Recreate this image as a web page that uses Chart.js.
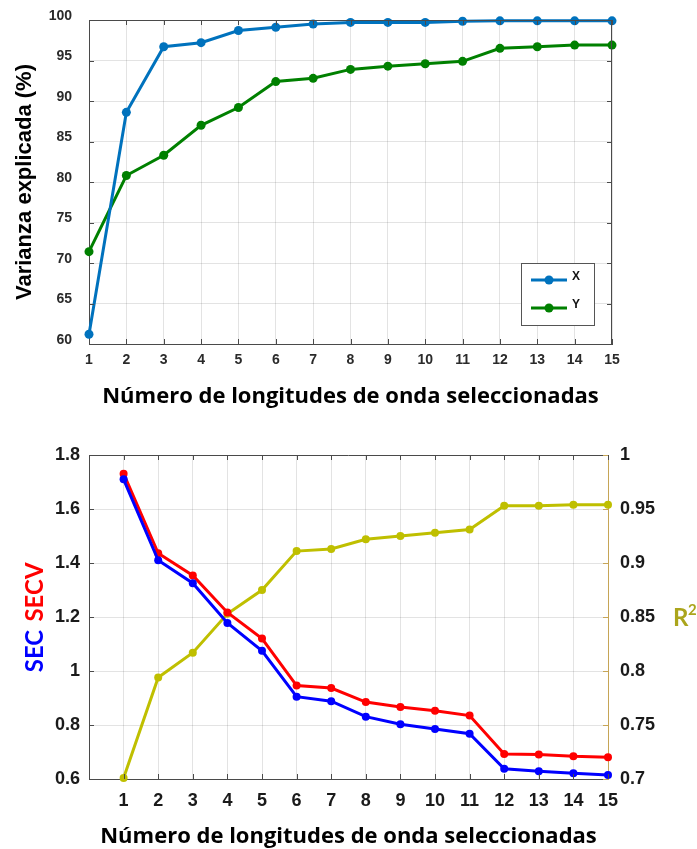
<!DOCTYPE html>
<html lang="es">
<head>
<meta charset="utf-8">
<title>Varianza explicada y SEC / SECV / R²</title>
<script src="https://cdn.jsdelivr.net/npm/chart.js@4.4.1/dist/chart.umd.min.js"></script>
<style>
    html, body { margin: 0; padding: 0; background: #fff; }
    #lienzo { position: relative; width: 697px; height: 849px; overflow: hidden; }
    canvas { position: absolute; left: 0; }
    #grafico-varianza { top: 0; }
    #grafico-errores { top: 430px; }
</style>
</head>
<body>
<div id="lienzo">
    <canvas id="grafico-varianza" width="697" height="420"></canvas>
    <canvas id="grafico-errores" width="697" height="419"></canvas>
</div>
<script>
// --- Datos ---
const longitudes = [1, 2, 3, 4, 5, 6, 7, 8, 9, 10, 11, 12, 13, 14, 15];
const varianzaX = [61.2, 88.6, 96.7, 97.2, 98.7, 99.1, 99.5, 99.7, 99.7, 99.7, 99.85, 99.9, 99.9, 99.9, 99.9];
const varianzaY = [71.4, 80.8, 83.3, 87.0, 89.2, 92.4, 92.8, 93.9, 94.3, 94.6, 94.9, 96.5, 96.7, 96.9, 96.9];
const sec  = [1.71, 1.41, 1.325, 1.178, 1.075, 0.905, 0.888, 0.831, 0.803, 0.785, 0.768, 0.638, 0.629, 0.621, 0.615];
const secv = [1.731, 1.436, 1.354, 1.217, 1.12, 0.946, 0.937, 0.885, 0.867, 0.853, 0.835, 0.693, 0.691, 0.684, 0.681];
const r2   = [0.701, 0.794, 0.817, 0.853, 0.875, 0.911, 0.913, 0.922, 0.925, 0.928, 0.931, 0.953, 0.953, 0.954, 0.954];

// --- Marcas de los ejes ---
const ticksVarianza = [60, 65, 70, 75, 80, 85, 90, 95, 100];
const ticksSec = [0.6, 0.8, 1, 1.2, 1.4, 1.6, 1.8];
const ticksR2 = [0.7, 0.75, 0.8, 0.85, 0.9, 0.95, 1];

const tituloX = 'Número de longitudes de onda seleccionadas';
const fuenteTitulo = 'Open Sans';

Chart.defaults.font.family = 'Liberation Sans';
Chart.defaults.font.weight = 'bold';

const puntos = (valores) => valores.map((v, i) => ({ x: longitudes[i], y: v }));
const fijarTicks = (lista) => (scale) => { scale.ticks = lista.map(v => ({ value: v })); };
// Ancho fijo del eje vertical, sin relleno extra arriba/abajo (el área la fija layout.padding)
const ejeVertical = (ancho) => (scale) => {
    scale.width = ancho;
    scale.paddingTop = 0;
    scale.paddingBottom = 0;
};
const COLOR_GRID = 'rgba(0,0,0,0.11)';
const COLOR_EJE = '#4a4a4a';

/**
 * Caja estilo MATLAB: borde superior/derecho y marcas hacia dentro.
 */
const cajaMatlab = {
    id: 'cajaMatlab',
    afterDatasetsDraw(chart, args, opts) {
        const { ctx, chartArea: a, scales } = chart;
        const L = 5;
        const linea = (x1, y1, x2, y2) => { ctx.beginPath(); ctx.moveTo(x1, y1); ctx.lineTo(x2, y2); ctx.stroke(); };
        ctx.save();
        ctx.lineWidth = 1;
        ctx.strokeStyle = COLOR_EJE;
        linea(a.left, a.top + 0.5, a.right, a.top + 0.5);
        scales.x.ticks.forEach(t => {
            const px = Math.round(scales.x.getPixelForValue(t.value)) + 0.5;
            linea(px, a.top, px, a.top + L);
            linea(px, a.bottom, px, a.bottom - L);
        });
        scales.y.ticks.forEach(t => {
            const py = Math.round(scales.y.getPixelForValue(t.value)) + 0.5;
            linea(a.left, py, a.left + L, py);
            if (!opts.escalaDerecha) linea(a.right, py, a.right - L, py);
        });
        if (opts.escalaDerecha) {
            const d = scales[opts.escalaDerecha];
            ctx.strokeStyle = opts.colorDerecha;
            d.ticks.forEach(t => {
                const py = Math.round(d.getPixelForValue(t.value)) + 0.5;
                linea(a.right, py, a.right - L, py);
            });
        } else {
            linea(a.right - 0.5, a.top, a.right - 0.5, a.bottom);
        }
        ctx.restore();
    }
};

/**
 * Leyenda dentro del área del gráfico (esquina inferior derecha).
 */
const leyendaInterna = {
    id: 'leyendaInterna',
    afterDraw(chart, args, opts) {
        const { ctx } = chart;
        const { x, y, w, h } = opts;
        ctx.save();
        ctx.fillStyle = '#fff';
        ctx.fillRect(x, y, w, h);
        ctx.strokeStyle = '#555';
        ctx.lineWidth = 1;
        ctx.strokeRect(x + 0.5, y + 0.5, w, h);
        chart.data.datasets.forEach((ds, i) => {
            const cy = y + 17 + i * 28;
            ctx.strokeStyle = ds.borderColor;
            ctx.lineWidth = 3;
            ctx.beginPath();
            ctx.moveTo(x + 10, cy);
            ctx.lineTo(x + 46, cy);
            ctx.stroke();
            ctx.fillStyle = ds.borderColor;
            ctx.beginPath();
            ctx.arc(x + 28, cy, 4.5, 0, Math.PI * 2);
            ctx.fill();
            ctx.fillStyle = '#111';
            ctx.font = 'bold 12px "Liberation Sans"';
            ctx.textBaseline = 'middle';
            ctx.fillText(ds.label, x + 51, cy - 3);
        });
        ctx.restore();
    }
};

/**
 * Títulos de los ejes del segundo gráfico (SEC en azul, SECV en rojo, R²).
 */
const titulosErrores = {
    id: 'titulosErrores',
    afterDraw(chart) {
        const { ctx } = chart;
        ctx.save();
        ctx.font = 'bold 24px Lato';
        ctx.textBaseline = 'middle';
        ctx.textAlign = 'center';
        ctx.translate(35, 0);
        ctx.rotate(-Math.PI / 2);
        ctx.fillStyle = '#0000ff';
        ctx.fillText('SEC', -221, 0);
        ctx.fillStyle = '#ff0000';
        ctx.fillText('SECV', -162, 0);
        ctx.restore();

        ctx.save();
        const yR = chart.scales.y1.getPixelForValue(0.85);
        ctx.fillStyle = '#aba51c';
        ctx.textBaseline = 'alphabetic';
        ctx.font = 'bold 24px Lato';
        ctx.fillText('R', 673, yR + 9);
        ctx.font = 'bold 15px Lato';
        ctx.fillText('2', 688, yR - 2);
        ctx.restore();
    }
};

// --- Gráfico 1: varianza explicada ---
new Chart(document.getElementById('grafico-varianza'), {
    type: 'line',
    data: {
        datasets: [
            { label: 'X', data: puntos(varianzaX), borderColor: '#0072BD', backgroundColor: '#0072BD' },
            { label: 'Y', data: puntos(varianzaY), borderColor: '#008000', backgroundColor: '#008000' }
        ]
    },
    options: {
        responsive: false,
        animation: false,
        clip: false,
        layout: { padding: { top: 20, right: 85, left: 0, bottom: 0 } },
        elements: {
            line: { borderWidth: 3, tension: 0 },
            point: { radius: 4.5, borderWidth: 0 }
        },
        plugins: {
            legend: { display: false },
            tooltip: { enabled: false },
            cajaMatlab: {},
            leyendaInterna: { x: 521, y: 263, w: 73, h: 62 }
        },
        scales: {
            x: {
                type: 'linear',
                min: 1,
                max: 15,
                afterBuildTicks: fijarTicks(longitudes),
                afterFit: (s) => { s.height = 76; },
                grid: { color: COLOR_GRID, drawTicks: false },
                border: { color: COLOR_EJE },
                ticks: { padding: 8, color: '#2a2a2a', font: { size: 14 }, callback: (v) => String(v) },
                title: {
                    display: true,
                    text: tituloX,
                    color: '#000',
                    font: { family: fuenteTitulo, size: 22, weight: 'bold', lineHeight: 1 },
                    padding: { top: 0, bottom: 12 }
                }
            },
            y: {
                min: 60,
                max: 100,
                afterBuildTicks: fijarTicks(ticksVarianza),
                afterFit: ejeVertical(89),
                grid: { color: COLOR_GRID, drawTicks: false },
                border: { color: COLOR_EJE },
                ticks: { padding: 17, labelOffset: -4, color: '#2a2a2a', font: { size: 14 }, callback: (v) => String(v) },
                title: {
                    display: true,
                    text: 'Varianza explicada (%)',
                    color: '#000',
                    font: { size: 22, weight: 'bold', lineHeight: 1 },
                    padding: { top: 14, bottom: 0 }
                }
            }
        }
    },
    plugins: [cajaMatlab, leyendaInterna]
});

// --- Gráfico 2: SEC, SECV y R² ---
new Chart(document.getElementById('grafico-errores'), {
    type: 'line',
    data: {
        datasets: [
            { label: 'SEC', data: puntos(sec), borderColor: '#0000ff', backgroundColor: '#0000ff', yAxisID: 'y' },
            { label: 'SECV', data: puntos(secv), borderColor: '#ff0000', backgroundColor: '#ff0000', yAxisID: 'y' },
            { label: 'R²', data: puntos(r2), borderColor: '#bfbf00', backgroundColor: '#bfbf00', yAxisID: 'y1' }
        ]
    },
    options: {
        responsive: false,
        animation: false,
        clip: false,
        layout: { padding: { top: 25, right: 0, left: 0, bottom: 0 } },
        elements: {
            line: { borderWidth: 3, tension: 0 },
            point: { radius: 4, borderWidth: 0 }
        },
        plugins: {
            legend: { display: false },
            tooltip: { enabled: false },
            cajaMatlab: { escalaDerecha: 'y1', colorDerecha: '#c6a556' }
        },
        scales: {
            x: {
                type: 'linear',
                min: 0,
                max: 15,
                afterBuildTicks: fijarTicks(longitudes),
                afterFit: (s) => { s.height = 70; },
                grid: { color: COLOR_GRID, drawTicks: false },
                border: { color: COLOR_EJE },
                ticks: { padding: 11, color: '#1a1a1a', font: { size: 18 }, callback: (v) => String(v) },
                title: {
                    display: true,
                    text: tituloX,
                    color: '#000',
                    font: { family: fuenteTitulo, size: 22, weight: 'bold', lineHeight: 1 },
                    padding: { top: 0, bottom: 1 }
                }
            },
            y: {
                position: 'left',
                min: 0.6,
                max: 1.8,
                afterBuildTicks: fijarTicks(ticksSec),
                afterFit: ejeVertical(89),
                grid: { color: COLOR_GRID, drawTicks: false },
                border: { color: COLOR_EJE },
                ticks: { padding: 9, color: '#1a1a1a', font: { size: 18 }, callback: (v) => String(v) }
            },
            y1: {
                position: 'right',
                min: 0.7,
                max: 1,
                afterBuildTicks: fijarTicks(ticksR2),
                afterFit: ejeVertical(89),
                grid: { drawOnChartArea: false, drawTicks: false },
                border: { color: '#c6a556' },
                ticks: { padding: 12, color: '#1a1a1a', font: { size: 18 }, callback: (v) => String(v) }
            }
        }
    },
    plugins: [cajaMatlab, titulosErrores]
});
</script>
</body>
</html>
